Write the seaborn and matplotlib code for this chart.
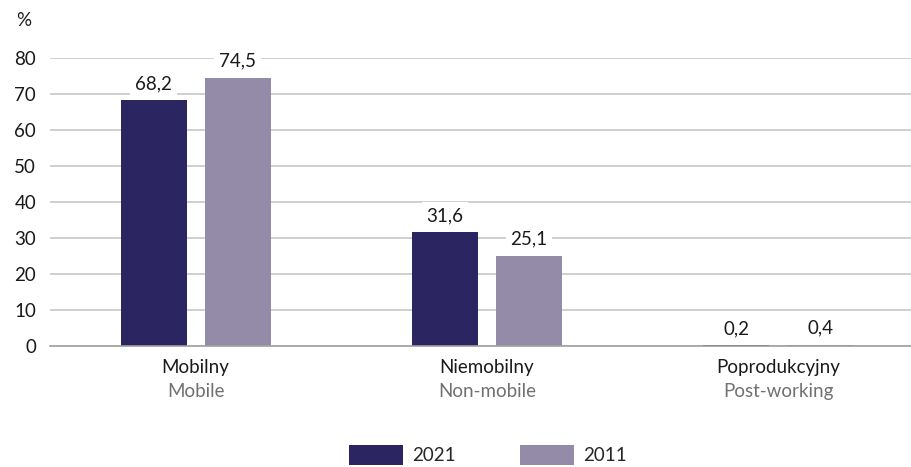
import matplotlib
matplotlib.use("Agg")
import matplotlib.pyplot as plt
import seaborn as sns
import pandas as pd

categories_pl = ["Mobilny", "Niemobilny", "Poprodukcyjny"]
categories_en = ["Mobile", "Non-mobile", "Post-working"]
years = ["2021", "2011"]
values_2021 = [68.2, 31.6, 0.2]
values_2011 = [74.5, 25.1, 0.4]
yticks = [0, 10, 20, 30, 40, 50, 60, 70, 80]

df = pd.DataFrame({
    "cat": categories_pl * 2,
    "year": [years[0]] * 3 + [years[1]] * 3,
    "val": values_2021 + values_2011,
})

sns.set_theme(style="white")
plt.rcParams['font.family'] = ['Lato', 'DejaVu Sans']

colors = {"2021": "#2b2561", "2011": "#948ba9"}
FS = 13.5

fig = plt.figure(figsize=(9.12, 4.67), dpi=100)
ax = fig.add_axes([50/912, 121/467, 862/912, 288/467])

sns.barplot(data=df, x="cat", y="val", hue="year", hue_order=years,
            palette=colors, width=0.577, gap=0.214, ax=ax, legend=False,
            saturation=1, linewidth=0)

ax.set_ylim(0, 80)
ax.set_xlim(-0.5, 2.46)
ax.set_yticks(yticks)
ax.set_yticklabels([str(t) for t in yticks], fontsize=FS, color="#1a1a1a")
ax.yaxis.grid(True, color="#c8c8c8", linewidth=1.2)
ax.set_axisbelow(True)
for s in ["top", "right", "left"]:
    ax.spines[s].set_visible(False)
ax.spines["bottom"].set_color("#a0a0a0")
ax.spines["bottom"].set_linewidth(1.2)
ax.tick_params(axis="y", length=0, pad=10)
ax.tick_params(axis="x", length=0)
ax.set_xticks([0, 1, 2])
ax.set_xticklabels([])
ax.set_xlabel("")
ax.set_ylabel("")

for cont in ax.containers:
    for bar in cont:
        h = bar.get_height()
        ax.annotate(f"{h:.1f}".replace(".", ","),
                    (bar.get_x() + bar.get_width()/2, h),
                    xytext=(0, 6), textcoords="offset points",
                    ha="center", va="bottom", fontsize=FS, color="#1a1a1a",
                    annotation_clip=False,
                    bbox=dict(boxstyle="square,pad=0.25", fc="white", ec="none"))

for i, (pl, en) in enumerate(zip(categories_pl, categories_en)):
    ax.text(i, -0.045, pl, transform=ax.get_xaxis_transform(), ha="center",
            va="top", fontsize=FS, color="#1a1a1a")
    ax.text(i, -0.13, en, transform=ax.get_xaxis_transform(), ha="center",
            va="top", fontsize=FS, color="#707070")

fig.text(16/912, 1 - 20/467, "%", ha="left", va="center", fontsize=FS,
         color="#1a1a1a")

from matplotlib.patches import Patch
handles = [Patch(facecolor=colors[y], edgecolor="none", label=y) for y in years]
fig.legend(handles=handles, loc="center", bbox_to_anchor=(488/912, 1 - 455/467),
           ncol=2, frameon=False, fontsize=FS, handlelength=2.9,
           handleheight=1.3, columnspacing=3.4, handletextpad=0.5)

fig.savefig("out.png", dpi=100)
